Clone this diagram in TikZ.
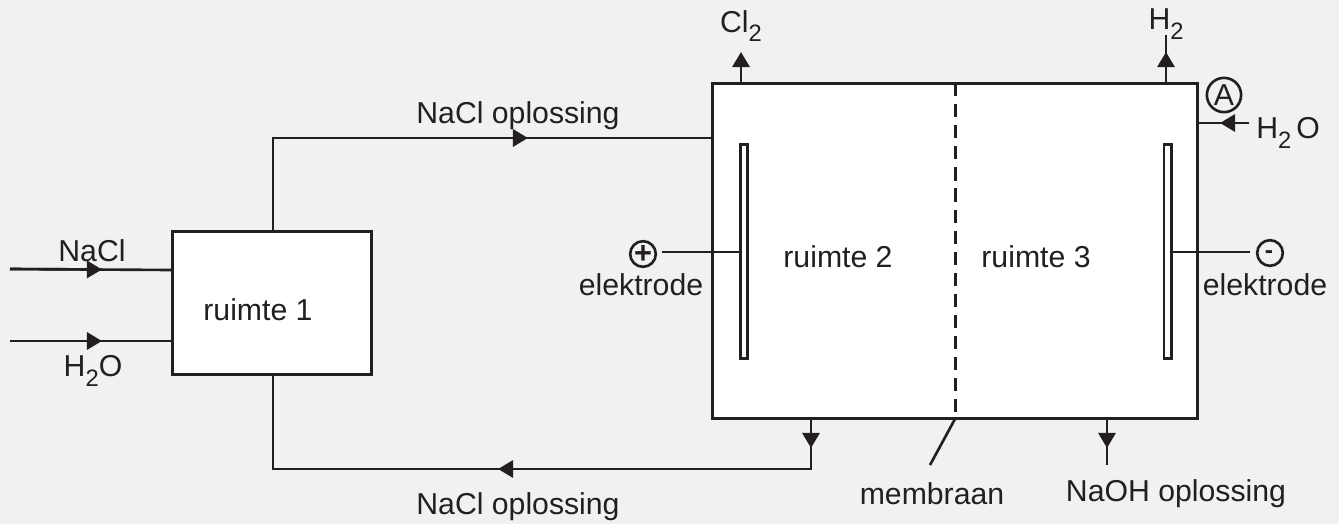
\documentclass[tikz,border=0pt]{standalone}
\usepackage{fontspec}
\setmainfont{Liberation Sans}
\usetikzlibrary{arrows.meta}

\newcommand{\subtwo}{\raisebox{-0.6ex}{\fontsize{13.5}{14}\selectfont 2}}

\definecolor{inkgray}{HTML}{231F20}
\definecolor{pagegray}{HTML}{F1F1F1}

\tikzset{
  every node/.style={text=inkgray, font=\fontsize{17.2}{20}\selectfont, inner sep=0pt},
  vessel/.style={draw=inkgray, fill=white, line width=1.7pt, minimum width=0pt},
  pipe/.style={draw=inkgray, line width=1.5pt},
  flowtip/.style={draw=inkgray, line width=1.5pt, -{Triangle[length=8.6pt,width=9.8pt]}},
  plate/.style={draw=inkgray, fill=white, line width=1.5pt},
  sign/.style={draw=inkgray, line width=1.5pt, circle, minimum size=14.6pt}
}

\begin{document}
\begin{tikzpicture}[x=0.02cm, y=-0.02cm]

\fill[pagegray] (0,0) rectangle (1339,524);
\useasboundingbox (0,0) rectangle (1339,524);

% mixing vessel, left
\node[vessel, minimum width=113.5pt, minimum height=81.5pt] (box1) at (272,303) {};
\node at (258,310) {ruimte 1};

% electrolysis cell, right
\node[vessel, minimum width=276.5pt, minimum height=191pt] (cell) at (955,251) {};
\coordinate (memtop) at (955,83);
\coordinate (membot) at (955,419);
\draw[pipe, line width=1.7pt, dash pattern=on 7.5pt off 4.5pt] (memtop) -- (membot);
\node at (838,257) {ruimte 2};
\node at (1036,257) {ruimte 3};

% electrode plates
\node[plate, minimum width=4.2pt, minimum height=122pt] (plateL) at (744,251.5) {};
\node[plate, minimum width=4.2pt, minimum height=122pt] (plateR) at (1167.5,251.5) {};
\node[sign] (plus) at (643,254) {};
\node[sign] (minus) at (1270,253) {};
\node[font=\fontsize{17.5}{20}\selectfont\bfseries] at (643,254) {+};
\node[font=\fontsize{14}{14}\selectfont\bfseries] at (1269,255) {-};
\coordinate (plusend) at (662,252);
\coordinate (minusend) at (1250,252);
\draw[pipe] (plusend) -- (plateL.west |- plusend);
\draw[pipe] (plateR.east |- minusend) -- (minusend);
\node at (641,285) {elektrode};
\node at (1265,285) {elektrode};

% feed into vessel
\coordinate (naclin) at (10,269);
\coordinate (naclend) at (172,270);
\coordinate (naclmid) at (102,269.5);
\coordinate (waterin) at (10,341);
\coordinate (waterend) at (172,341);
\coordinate (watermid) at (102,341);
\draw[pipe] (naclin) -- (naclend);
\draw[flowtip] (naclin) -- (naclmid);
\draw[pipe] (waterin) -- (waterend);
\draw[flowtip] (waterin) -- (watermid);
\node (nacl) at (92,251) {NaCl};
\node (water) at (93,371) {H\subtwo O};

% solution to the cell
\coordinate (feedA) at (273,231);
\coordinate (feedB) at (273,138);
\coordinate (feedC) at (712,138);
\coordinate (feedmid) at (528,138);
\draw[pipe] (feedA) -- (feedB) -- (feedC);
\draw[flowtip] (feedB) -- (feedmid);
\node at (518,116) {NaCl oplossing};

% solution back to the vessel
\coordinate (backA) at (811,419);
\coordinate (backB) at (811,469);
\coordinate (backC) at (273,469);
\coordinate (backD) at (273,375);
\coordinate (backtip) at (811,448);
\coordinate (backmid) at (498,469);
\draw[pipe] (backA) -- (backB) -- (backC) -- (backD);
\draw[flowtip] (backA) -- (backtip);
\draw[flowtip] (backB) -- (backmid);
\node at (518,507) {NaCl oplossing};

% gases out at the top
\coordinate (clA) at (741,83);
\coordinate (clB) at (741,52);
\draw[flowtip] (clA) -- (clB);
\node at (741,26) {Cl\subtwo};
\coordinate (hA) at (1166,83);
\coordinate (hB) at (1166,35);
\coordinate (htip) at (1166,52);
\draw[pipe] (hA) -- (hB);
\draw[flowtip] (hA) -- (htip);
\node at (1166,24) {H\subtwo};

% water into the cell
\coordinate (inA) at (1249,123);
\coordinate (inB) at (1198,123);
\coordinate (intip) at (1220,123);
\draw[pipe] (inA) -- (inB);
\draw[flowtip] (inA) -- (intip);
\node[anchor=west] at (1256,133) {H\subtwo\,O};
\node[sign, minimum size=19.5pt] (markA) at (1224,95) {};
\node at (1224,95) {A};

% outlets at the bottom
\coordinate (lyeA) at (1107,419);
\coordinate (lyeB) at (1107,465);
\coordinate (lyetip) at (1107,448);
\draw[pipe] (lyeA) -- (lyeB);
\draw[flowtip] (lyeA) -- (lyetip);
\node at (1176,494) {NaOH oplossing};
\coordinate (leader) at (930,465);
\draw[pipe] (membot) -- (leader);
\node at (932,494) {membraan};

\end{tikzpicture}
\end{document}
